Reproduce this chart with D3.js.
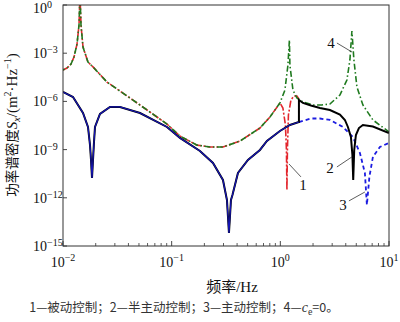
<!DOCTYPE html>
<html><head><meta charset="utf-8">
<script src="https://cdn.jsdelivr.net/npm/d3@7"></script>
<style>body{margin:0;background:#fff} svg{display:block}</style>
</head><body><svg id="c" width="400" height="322"></svg>
<script>
// ---- data (frequency in Hz, PSD in m^2/Hz) ----
const curve4F = [0.01,0.01089,0.01185,0.01262,0.01346,0.01404,0.01433,0.01464,0.01528,0.01698,0.01888,0.0254,0.0441,0.0905,0.119,0.171,0.225,0.297,0.425,0.649,0.803,0.992,1.102,1.175,1.212,1.225,1.306,1.421,1.614,1.995,2.413,2.86,3.534,4.099,4.368,4.557,4.754,5.068,5.753,7.11,10];
const curve4S = [9.0e-5,1.2e-4,2.1e-4,5.8e-4,3.7e-3,5.7e-2,5,5.7e-2,2.4e-3,2.8e-4,1.4e-4,1.6e-5,1.2e-6,3.9e-8,7.0e-9,1.9e-9,1.46e-9,1.46e-9,3.4e-9,2.2e-8,1.07e-7,8.0e-7,5.1e-6,1.85e-4,6.6e-3,1.85e-4,5.1e-6,1.63e-6,9.2e-7,6.0e-7,6.0e-7,6.9e-7,2.5e-6,2.15e-5,3.8e-4,2.4e-2,3.8e-4,7.9e-6,6.0e-7,7.0e-8,1.25e-8];

const curve1F = [0.01,0.01089,0.01185,0.01262,0.01346,0.01404,0.01433,0.01464,0.01528,0.01698,0.01888,0.0254,0.0441,0.0905,0.119,0.171,0.225,0.297,0.425,0.649,0.803,0.992,1.056,1.114,1.138,1.15,1.162,1.187,1.252,1.334,1.421,1.483];
const curve1S = [9.0e-5,1.2e-4,2.1e-4,5.8e-4,3.7e-3,5.7e-2,5,5.7e-2,2.4e-3,2.8e-4,1.4e-4,1.6e-5,1.2e-6,3.9e-8,7.0e-9,1.9e-9,1.46e-9,1.46e-9,3.4e-9,2.2e-8,1.07e-7,8.0e-7,3.9e-7,3.4e-8,9.5e-10,3.1e-12,9.5e-10,1.43e-7,1.22e-6,2.17e-6,2.17e-6,1.42e-6];

const curve3F = [0.01,0.01236,0.01528,0.01698,0.01772,0.0181,0.01849,0.01888,0.01929,0.0197,0.02189,0.02706,0.03345,0.0511,0.0905,0.1192,0.1821,0.24,0.2965,0.3226,0.3367,0.3513,0.3626,0.4074,0.5035,0.6491,0.7528,0.9915,1.225,1.483,1.912,2.314,2.86,3.766,4.654,5.4,6.0,6.26,6.6,7.11,8.248,10];
const curve3S = [3.86e-6,1.88e-6,1.9e-7,2.56e-8,1.94e-9,2.26e-10,1.72e-11,2.26e-10,2.98e-9,2.56e-8,1.65e-7,4.5e-7,4.5e-7,1.9e-7,2.56e-8,5.3e-9,8.2e-10,1.47e-10,1.29e-11,7.3e-13,6.5e-15,7.3e-13,1.5e-12,3.5e-11,2.26e-10,9.5e-10,3.44e-9,1.44e-8,3.4e-8,5.2e-8,8.6e-8,8.6e-8,7.0e-8,2.56e-8,6.1e-9,6.2e-10,3.5e-11,3.6e-13,2.0e-11,3.5e-10,1.46e-9,2.6e-9];

const curve2F = [0.01,0.01236,0.01528,0.01698,0.01772,0.0181,0.01849,0.01888,0.01929,0.0197,0.02189,0.02706,0.03345,0.0511,0.0905,0.1192,0.1821,0.24,0.2965,0.3226,0.3367,0.3513,0.3626,0.4074,0.5035,0.6491,0.7528,0.9915,1.225,1.483,1.483,1.614,1.912,2.314,2.86,3.534,3.929,4.187,4.462,4.605,4.685,4.786,4.961,5.287,5.753,7.11,10];
const curve2S = [3.86e-6,1.88e-6,1.9e-7,2.56e-8,1.94e-9,2.26e-10,1.72e-11,2.26e-10,2.98e-9,2.56e-8,1.65e-7,4.5e-7,4.5e-7,1.9e-7,2.56e-8,5.3e-9,8.2e-10,1.47e-10,1.29e-11,7.3e-13,6.5e-15,7.3e-13,1.5e-12,3.5e-11,2.26e-10,9.5e-10,3.44e-9,1.44e-8,3.4e-8,5.2e-8,1.22e-6,8.0e-7,5.6e-7,3.9e-7,2.92e-7,1.53e-7,7.0e-8,2.56e-8,6.1e-9,4.6e-10,1.29e-11,9.5e-10,8.1e-9,2.2e-8,3.4e-8,2.75e-8,1.08e-8];

const activeSolidUntil = 1.483; // curve 3 drawn solid below this frequency

const xTicks = [0.01,0.1,1,10];
const xTickExp = ["−2","−1","0","1"];
const yTicks = [1,1e-3,1e-6,1e-9,1e-12,1e-15];
const yTickExp = ["0","−3","−6","−9","−12","−15"];

const labelText = ["1","2","3","4"];
const labelF = [1.614,2.86,3.766,2.922];
const labelS = [6.3e-12,7.2e-11,3.6e-13,4.3e-3];
const leaderF1 = [1.20,3.317,4.277,3.317];
const leaderS1 = [1.28e-10,8.3e-11,6.4e-13,4.3e-3];
const leaderF2 = [1.548,4.557,6.0,4.557];
const leaderS2 = [2.0e-11,3.5e-10,2.3e-12,1.19e-3];

// ---- drawing ----
const svg = d3.select("#c");
const L=63,R=389,T=5,B=246;
const x = d3.scaleLog().domain([0.01,10]).range([L,R]);
const y = d3.scaleLog().domain([1e-15,1]).range([B,T]);
const serif = "'Liberation Serif','Times New Roman',serif";
const cjk = "'Noto Sans CJK SC',sans-serif";

svg.append("defs").append("clipPath").attr("id","pc")
  .append("rect").attr("x",L).attr("y",T).attr("width",R-L).attr("height",B-T);

const g = svg.append("g").attr("clip-path","url(#pc)");
const line = d3.line().x(d=>x(d[0])).y(d=>y(d[1]));
const zip = (F,S)=>F.map((f,i)=>[f,S[i]]);

const c2 = zip(curve2F,curve2S);
const c3 = zip(curve3F,curve3S);
const c3lo = c3.filter(d=>d[0]<=activeSolidUntil);
const c3hi = c3.filter(d=>d[0]>=activeSolidUntil);

g.append("path").attr("d",line(zip(curve1F,curve1S))).attr("fill","none")
  .attr("stroke","#e3262d").attr("stroke-width",1.6).attr("stroke-dasharray","7,2,2,2");
g.append("path").attr("d",line(zip(curve4F,curve4S))).attr("fill","none")
  .attr("stroke","#1f7a1f").attr("stroke-width",1.6).attr("stroke-dasharray","6,2.5,1.5,2.5").attr("stroke-dashoffset",4);
g.append("path").attr("d",line(c3hi)).attr("fill","none")
  .attr("stroke","#1c1ce0").attr("stroke-width",1.8).attr("stroke-dasharray","4,3");
g.append("path").attr("d",line(c2)).attr("fill","none")
  .attr("stroke","#000").attr("stroke-width",2);
g.append("path").attr("d",line(c3lo)).attr("fill","none")
  .attr("stroke","#1414b4").attr("stroke-width",1.2);

// annotations
labelText.forEach((t,i)=>{
  svg.append("line").attr("x1",x(leaderF1[i])).attr("y1",y(leaderS1[i]))
    .attr("x2",x(leaderF2[i])).attr("y2",y(leaderS2[i]))
    .attr("stroke","#333").attr("stroke-width",0.8);
  svg.append("text").attr("x",x(labelF[i])).attr("y",y(labelS[i])+5)
    .attr("text-anchor","middle").attr("font-family",serif).attr("font-size",15)
    .attr("fill","#111").text(t);
});

// frame
svg.append("rect").attr("x",L).attr("y",T).attr("width",R-L).attr("height",B-T)
  .attr("fill","none").attr("stroke","#333").attr("stroke-width",1);

// x ticks
const minor=[];
for(let e=-2;e<1;e++) for(let k=2;k<10;k++) minor.push(k*Math.pow(10,e));
minor.forEach(v=>svg.append("line").attr("x1",x(v)).attr("x2",x(v)).attr("y1",B).attr("y2",B-3)
  .attr("stroke","#333").attr("stroke-width",0.8));
xTicks.forEach((v,i)=>{
  svg.append("line").attr("x1",x(v)).attr("x2",x(v)).attr("y1",B).attr("y2",B-5)
    .attr("stroke","#333").attr("stroke-width",0.9);
  const t=svg.append("text").attr("x",x(v)).attr("y",267).attr("text-anchor","middle")
    .attr("font-family",serif).attr("font-size",14).attr("fill","#111");
  t.append("tspan").text("10");
  t.append("tspan").attr("dy",-6).attr("font-size",10).text(xTickExp[i]);
});
// y ticks
yTicks.forEach((v,i)=>{
  svg.append("line").attr("x1",L).attr("x2",L+4).attr("y1",y(v)).attr("y2",y(v))
    .attr("stroke","#333").attr("stroke-width",0.9);
  const t=svg.append("text").attr("x",33).attr("y",Math.max(y(v)+5,13)).attr("text-anchor","start")
    .attr("font-family",serif).attr("font-size",14).attr("fill","#111");
  t.append("tspan").text("10");
  t.append("tspan").attr("dy",-5).attr("font-size",10).text(yTickExp[i]);
});

// x label
const xl=svg.append("text").attr("x",232).attr("y",292).attr("text-anchor","middle")
  .attr("font-size",15).attr("fill","#111");
xl.append("tspan").attr("font-family",cjk).attr("font-size",15).text("频率");
xl.append("tspan").attr("font-family",serif).text("/Hz");

// y label
const yl=svg.append("text").attr("transform","translate(17,125) rotate(-90)")
  .attr("text-anchor","middle").attr("font-size",15).attr("fill","#111").attr("font-family",serif);
yl.append("tspan").attr("font-family",cjk).attr("font-size",13.5).text("功率谱密度");
yl.append("tspan").attr("font-style","italic").text("S");
yl.append("tspan").attr("font-style","italic").attr("font-size",10).attr("dy",3).text("x");
yl.append("tspan").attr("dy",-3).text("/(m");
yl.append("tspan").attr("font-size",10).attr("dy",-6).text("2");
yl.append("tspan").attr("dy",6).text("·Hz");
yl.append("tspan").attr("font-size",10).attr("dy",-6).text("−1");
yl.append("tspan").attr("dy",6).text(")");

// caption
const cap=svg.append("text").attr("x",184).attr("y",312).attr("text-anchor","middle")
  .attr("font-family",cjk).attr("font-size",12.5).attr("fill","#333");
cap.append("tspan").text("1—被动控制；2—半主动控制；3—主动控制；4—");
cap.append("tspan").attr("font-family",serif).attr("font-style","italic").attr("font-size",14).text("c");
cap.append("tspan").attr("font-family",serif).attr("font-size",10).attr("dy",3).text("e");
cap.append("tspan").attr("dy",-3).text("=0。");
</script></body></html>
